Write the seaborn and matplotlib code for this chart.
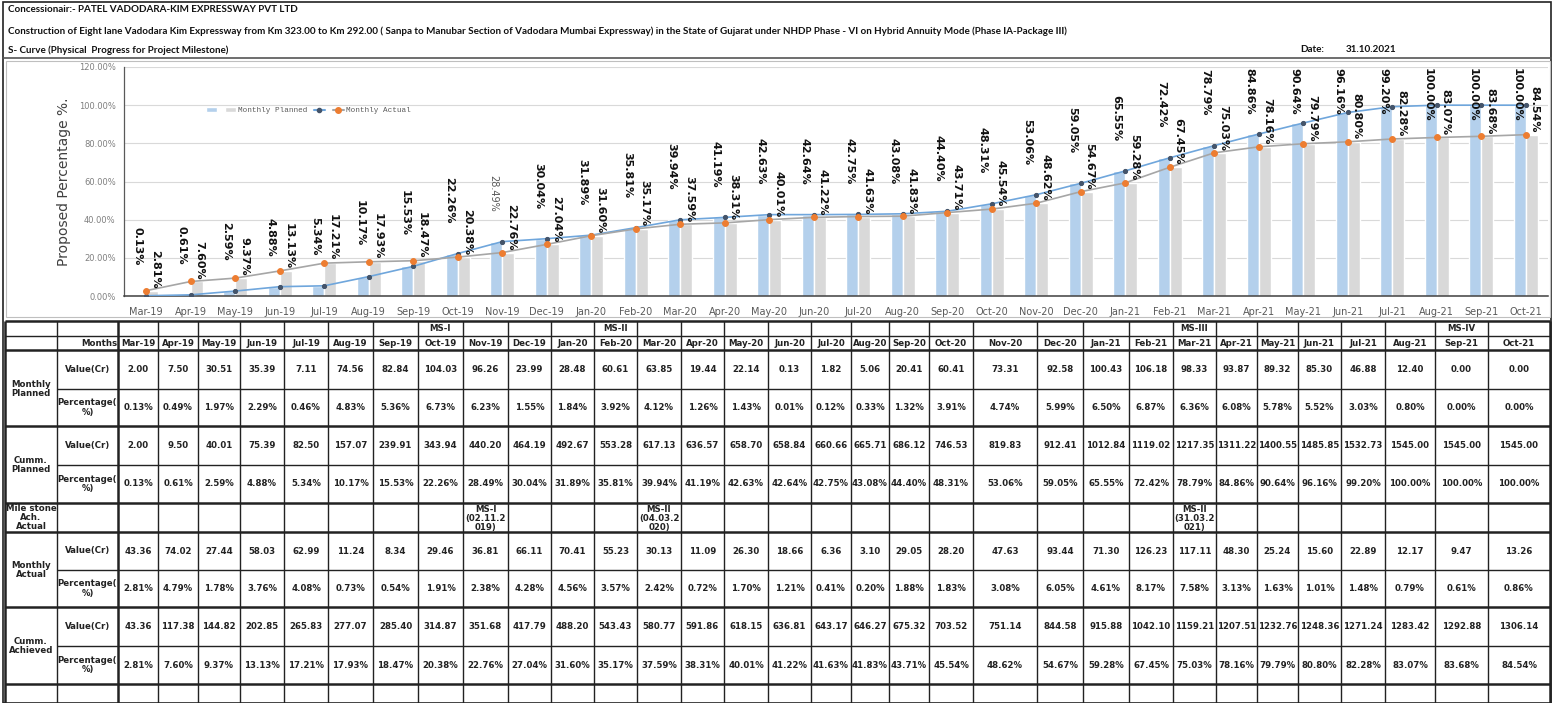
import numpy as np
import pandas as pd
import matplotlib
matplotlib.use('Agg')
import matplotlib.pyplot as plt
import seaborn as sns
from matplotlib.lines import Line2D
from matplotlib.patches import Patch, Rectangle

# ---- data ----
months = ['Mar-19', 'Apr-19', 'May-19', 'Jun-19', 'Jul-19', 'Aug-19', 'Sep-19', 'Oct-19', 'Nov-19',
          'Dec-19', 'Jan-20', 'Feb-20', 'Mar-20', 'Apr-20', 'May-20', 'Jun-20', 'Jul-20', 'Aug-20',
          'Sep-20', 'Oct-20', 'Nov-20', 'Dec-20', 'Jan-21', 'Feb-21', 'Mar-21', 'Apr-21', 'May-21',
          'Jun-21', 'Jul-21', 'Aug-21', 'Sep-21', 'Oct-21']

mp_value = [2.00, 7.50, 30.51, 35.39, 7.11, 74.56, 82.84, 104.03, 96.26,
            23.99, 28.48, 60.61, 63.85, 19.44, 22.14, 0.13, 1.82, 5.06, 20.41, 60.41, 73.31,
            92.58, 100.43, 106.18, 98.33, 93.87, 89.32, 85.30, 46.88, 12.40, 0.00, 0.00]
mp_pct = [0.13, 0.49, 1.97, 2.29, 0.46, 4.83, 5.36, 6.73, 6.23,
          1.55, 1.84, 3.92, 4.12, 1.26, 1.43, 0.01, 0.12, 0.33, 1.32, 3.91, 4.74,
          5.99, 6.50, 6.87, 6.36, 6.08, 5.78, 5.52, 3.03, 0.80, 0.00, 0.00]
cp_value = [2.00, 9.50, 40.01, 75.39, 82.50, 157.07, 239.91, 343.94, 440.20,
            464.19, 492.67, 553.28, 617.13, 636.57, 658.70, 658.84, 660.66, 665.71, 686.12, 746.53, 819.83,
            912.41, 1012.84, 1119.02, 1217.35, 1311.22, 1400.55, 1485.85, 1532.73, 1545.00, 1545.00, 1545.00]
cp_pct = [0.13, 0.61, 2.59, 4.88, 5.34, 10.17, 15.53, 22.26, 28.49,
          30.04, 31.89, 35.81, 39.94, 41.19, 42.63, 42.64, 42.75, 43.08, 44.40, 48.31, 53.06,
          59.05, 65.55, 72.42, 78.79, 84.86, 90.64, 96.16, 99.20, 100.00, 100.00, 100.00]
ma_value = [43.36, 74.02, 27.44, 58.03, 62.99, 11.24, 8.34, 29.46, 36.81,
            66.11, 70.41, 55.23, 30.13, 11.09, 26.30, 18.66, 6.36, 3.10, 29.05, 28.20, 47.63,
            93.44, 71.30, 126.23, 117.11, 48.30, 25.24, 15.60, 22.89, 12.17, 9.47, 13.26]
ma_pct = [2.81, 4.79, 1.78, 3.76, 4.08, 0.73, 0.54, 1.91, 2.38,
          4.28, 4.56, 3.57, 2.42, 0.72, 1.70, 1.21, 0.41, 0.20, 1.88, 1.83, 3.08,
          6.05, 4.61, 8.17, 7.58, 3.13, 1.63, 1.01, 1.48, 0.79, 0.61, 0.86]
ca_value = [43.36, 117.38, 144.82, 202.85, 265.83, 277.07, 285.40, 314.87, 351.68,
            417.79, 488.20, 543.43, 580.77, 591.86, 618.15, 636.81, 643.17, 646.27, 675.32, 703.52, 751.14,
            844.58, 915.88, 1042.10, 1159.21, 1207.51, 1232.76, 1248.36, 1271.24, 1283.42, 1292.88, 1306.14]
ca_pct = [2.81, 7.60, 9.37, 13.13, 17.21, 17.93, 18.47, 20.38, 22.76,
          27.04, 31.60, 35.17, 37.59, 38.31, 40.01, 41.22, 41.63, 41.83, 43.71, 45.54, 48.62,
          54.67, 59.28, 67.45, 75.03, 78.16, 79.79, 80.80, 82.28, 83.07, 83.68, 84.54]

ms_target = {'Oct-19': 'MS-I', 'Feb-20': 'MS-II', 'Mar-21': 'MS-III', 'Sep-21': 'MS-IV'}
ms_achieved = {'Nov-19': 'MS-I\n(02.11.2\n019)', 'Mar-20': 'MS-II\n(04.03.2\n020)',
               'Mar-21': 'MS-II\n(31.03.2\n021)'}

title_1 = 'Concessionair:- PATEL VADODARA-KIM EXPRESSWAY PVT LTD'
title_2 = ('Construction of Eight lane Vadodara Kim Expressway from Km 323.00 to Km 292.00 ( Sanpa to Manubar '
           'Section of Vadodara Mumbai Expressway) in the State of Gujarat under NHDP Phase - VI on Hybrid '
           'Annuity Mode (Phase IA-Package III)')
title_3 = 'S- Curve (Physical  Progress for Project Milestone)'
report_date = '31.10.2021'

# ---- layout (pixels) ----
W, H = 1554, 703
col_edges = [5, 57, 118, 158, 198, 240, 284, 328, 373, 418, 463, 508, 551, 594, 637, 681, 724, 768,
             811, 851, 889, 929, 973, 1037, 1083, 1129, 1173, 1216, 1257, 1298, 1341, 1385, 1435, 1488, 1550]
row_edges = [321, 336, 350, 389, 426, 465, 503, 532, 570, 607, 646, 684, 703]

BLUE_BAR = '#b4d0ec'
GREY_BAR = '#d9d9d9'
BLUE_LINE = '#6fa6dc'
DARK_MK = '#44546a'
GREY_LINE = '#a6a6a6'
ORANGE = '#ed7d31'

sns.set_theme(style='white')
plt.rcParams['font.family'] = ['DejaVu Sans']

fig = plt.figure(figsize=(W / 100, H / 100), dpi=100)
fig.patch.set_facecolor('white')

# overlay for header, frames and table (pixel coords)
tb = fig.add_axes([0, 0, 1, 1])
tb.set_xlim(0, W)
tb.set_ylim(H, 0)
tb.axis('off')
tb.patch.set_alpha(0)

tb.add_patch(Rectangle((3, 2), W - 6, H - 2, fill=False, ec='#222222', lw=1.2))
tb.plot([3, W - 3], [58, 58], color='#555555', lw=1.2)
tb.add_patch(Rectangle((6, 61), W - 10, 256, fill=False, ec='#bfbfbf', lw=0.8))

hfont = dict(family='Lato', weight='bold', fontsize=7.1, color='#111111', va='center')
tb.text(8, 10, title_1, **hfont)
tb.text(8, 31, title_2, **hfont)
tb.text(8, 50, title_3, **hfont)
tb.text(1300, 50, 'Date:', **hfont)
tb.text(1346, 50, report_date, **hfont)

# ---- chart ----
ax = fig.add_axes([124 / W, 1 - 296 / H, (1548 - 124) / W, (296 - 67) / H])
x = np.arange(len(months))
df = pd.DataFrame({
    'month': months * 2,
    'series': ['Planned'] * len(months) + ['Actual'] * len(months),
    'pct': cp_pct + ca_pct,
})
sns.barplot(data=df, x='month', y='pct', hue='series', hue_order=['Planned', 'Actual'],
            palette={'Planned': BLUE_BAR, 'Actual': GREY_BAR}, width=0.55, dodge=True,
            saturation=1, legend=False, ax=ax, zorder=2)
sns.lineplot(x=x, y=cp_pct, color=BLUE_LINE, lw=1.2, marker='o', markersize=3,
             markerfacecolor=DARK_MK, markeredgecolor=DARK_MK, ax=ax, zorder=4)
sns.lineplot(x=x, y=ca_pct, color=GREY_LINE, lw=1.2, marker='o', markersize=4.2,
             markerfacecolor=ORANGE, markeredgecolor=ORANGE, ax=ax, zorder=4)

ax.set_xlim(-0.5, len(months) - 0.5)
ax.set_ylim(0, 120)
ax.set_yticks(range(0, 121, 20))
ax.set_yticklabels([f'{v:.2f}%' for v in range(0, 121, 20)], fontsize=6, color='#7f7f7f')
ax.set_xticks(x)
ax.set_xticklabels(months, fontsize=7, color='#595959')
ax.tick_params(axis='both', length=0, pad=6)
ax.tick_params(axis='x', pad=8)
ax.grid(axis='y', color='#d9d9d9', lw=0.8, zorder=0)
ax.set_axisbelow(True)
for s in ['top', 'right']:
    ax.spines[s].set_visible(False)
ax.spines['left'].set_color('#595959')
ax.spines['bottom'].set_color('#404040')
ax.spines['left'].set_linewidth(0.9)
ax.spines['bottom'].set_linewidth(1.1)
ax.set_xlabel('')
ax.set_ylabel('Proposed Percentage %.', fontsize=10, color='#404040')
ax.yaxis.set_label_coords(-0.037, 0.5)

handles = [Patch(facecolor=BLUE_BAR), Patch(facecolor=GREY_BAR),
           Line2D([], [], color=BLUE_LINE, marker='o', ms=3, mfc=DARK_MK, mec=DARK_MK),
           Line2D([], [], color=GREY_LINE, marker='o', ms=4, mfc=ORANGE, mec=ORANGE)]
leg = ax.legend(handles, ['', 'Monthly Planned', '', 'Monthly Actual'], ncol=4, frameon=False,
                loc='center left', bbox_to_anchor=(0.053, 0.81), handlelength=1.4,
                handletextpad=0.3, columnspacing=0.8, prop={'family': 'Liberation Mono', 'size': 5.5})
for t in leg.get_texts():
    t.set_color('#595959')

# value labels
off_plan = 15.7
plan_labels = []
for i, v in enumerate(cp_pct):
    light = months[i] == 'Nov-19'
    t = ax.text(i - 0.2, v + off_plan, f'{v:.2f}%', rotation=-90, ha='center', va='bottom',
                fontsize=7 if light else 8, fontweight='normal' if light else 'bold',
                color='#595959' if light else '#111111', zorder=5)
    plan_labels.append(t)
for i, v in enumerate(ca_pct):
    ax.text(i + 0.2, v + 1.2, f'{v:.2f}%', rotation=-90, ha='center', va='bottom',
            fontsize=8, fontweight='bold', color='#111111', zorder=5)

# keep planned labels inside the plot area (like Excel)
fig.canvas.draw()
r = fig.canvas.get_renderer()
top = ax.get_window_extent(r).y1 - 1
for t in plan_labels:
    bb = t.get_window_extent(r)
    if bb.y1 > top:
        px, py = ax.transData.transform(t.get_position())
        t.set_position(ax.transData.inverted().transform((px, py - (bb.y1 - top))))

# ---- table ----
lw_thin, lw_thick = 1.0, 1.8
group_edges = {350, 426, 503, 532, 607, 684, 321}
for k, y in enumerate(row_edges[:-1]):
    lw = lw_thick if y in group_edges else lw_thin
    start = col_edges[0] if y in group_edges or y in (336,) else col_edges[1]
    tb.plot([start, col_edges[-1]], [y, y], color='#222222', lw=lw, solid_capstyle='butt')
for k, xe in enumerate(col_edges):
    lw = lw_thick if k in (0, 2, len(col_edges) - 1) else lw_thin
    tb.plot([xe, xe], [row_edges[0], row_edges[-1]], color='#222222', lw=lw, solid_capstyle='butt')

cfont = dict(fontsize=6.2, fontweight='bold', color='#222222', ha='center', va='center')
xc = [(col_edges[j] + col_edges[j + 1]) / 2 for j in range(len(col_edges) - 1)]
yc = [(row_edges[j] + row_edges[j + 1]) / 2 for j in range(len(row_edges) - 1)]

tb.text(col_edges[2] - 1, yc[1], 'Months', **{**cfont, 'ha': 'right'})
for j, m in enumerate(months):
    cx = xc[j + 2]
    tb.text(cx, yc[1], m, **cfont)
    if m in ms_target:
        tb.text(cx, yc[0], ms_target[m], **cfont)
    if m in ms_achieved:
        tb.text(cx, yc[6] + 1, ms_achieved[m], linespacing=0.95, **cfont)
    tb.text(cx, yc[2], f'{mp_value[j]:.2f}', **cfont)
    tb.text(cx, yc[3], f'{mp_pct[j]:.2f}%', **cfont)
    tb.text(cx, yc[4], f'{cp_value[j]:.2f}', **cfont)
    tb.text(cx, yc[5], f'{cp_pct[j]:.2f}%', **cfont)
    tb.text(cx, yc[7], f'{ma_value[j]:.2f}', **cfont)
    tb.text(cx, yc[8], f'{ma_pct[j]:.2f}%', **cfont)
    tb.text(cx, yc[9], f'{ca_value[j]:.2f}', **cfont)
    tb.text(cx, yc[10], f'{ca_pct[j]:.2f}%', **cfont)

for rr in (2, 4, 7, 9):
    tb.text(xc[1], yc[rr], 'Value(Cr)', **cfont)
    tb.text(xc[1], yc[rr + 1], 'Percentage(\n%)', linespacing=1.1, **cfont)
tb.text(xc[0], row_edges[3], 'Monthly\nPlanned', linespacing=1.1, **cfont)
tb.text(xc[0], row_edges[5], 'Cumm.\nPlanned', linespacing=1.1, **cfont)
tb.text(xc[0], yc[6], 'Mile stone\nAch.\nActual', linespacing=0.95, **cfont)
tb.text(xc[0], row_edges[8], 'Monthly\nActual', linespacing=1.1, **cfont)
tb.text(xc[0], row_edges[10], 'Cumm.\nAchieved', linespacing=1.1, **cfont)

fig.savefig('out.png', dpi=100, facecolor='white')
